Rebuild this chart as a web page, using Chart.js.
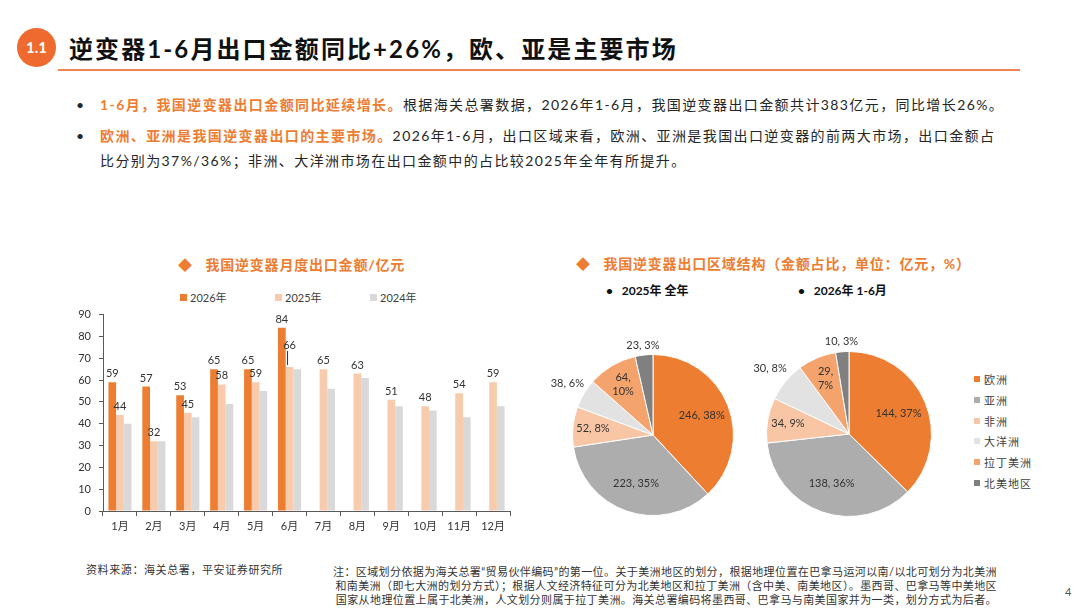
<!DOCTYPE html>
<html>
<head>
<meta charset="utf-8">
<script src="https://cdn.jsdelivr.net/npm/chart.js@4.4.1/dist/chart.umd.min.js"></script>
<style>
  body { margin: 0; background: #fff; font-family: "Lato", "Noto Sans CJK SC", sans-serif; color: #262626; }
  #page { position: relative; width: 1080px; height: 608px; overflow: hidden; }
  .abs { position: absolute; white-space: nowrap; }
  .badge { left: 17px; top: 28px; width: 39px; height: 39px; border-radius: 50%; background: #EE6A2F; color: #fff;
           font: bold 15px "Lato", sans-serif; text-align: center; line-height: 39px; }
  .title { left: 69px; top: 30px; font: bold 24px "Lato", "Noto Sans CJK SC", sans-serif; color: #111; letter-spacing: 2.1px; }
  .rule { left: 58px; top: 69px; width: 962px; height: 2px; background: #F08455; }
  .bullet { font-size: 14px; line-height: 25px; color: #262626; letter-spacing: 1.4px; }
  .hl { color: #ED7D31; font-weight: bold; }
  .ctitle { font-size: 14px; font-weight: bold; color: #ED7D31; letter-spacing: 0.8px; }
  .sub { font-size: 12px; font-weight: bold; color: #111; }
  .leg { font-size: 11px; color: #404040; display: flex; align-items: center; }
  .sw { display: inline-block; width: 7px; height: 7px; margin-right: 3px; }
  .foot { font-size: 11px; color: #333; letter-spacing: 0.4px; }
  canvas { position: absolute; }
</style>
</head>
<body>
<div id="page">
  <div class="abs badge">1.1</div>
  <div class="abs title">逆变器1-6月出口金额同比+26%，欧、亚是主要市场</div>
  <div class="abs rule"></div>

  <div class="abs bullet" style="left:76px; top:92px;">•</div>
  <div class="abs bullet" style="left:100px; top:92px;"><span class="hl">1-6月，我国逆变器出口金额同比延续增长。</span>根据海关总署数据，2026年1-6月，我国逆变器出口金额共计383亿元，同比增长26%。</div>
  <div class="abs bullet" style="left:76px; top:123px;">•</div>
  <div class="abs bullet" style="left:100px; top:123px;"><span class="hl">欧洲、亚洲是我国逆变器出口的主要市场。</span>2026年1-6月，出口区域来看，欧洲、亚洲是我国出口逆变器的前两大市场，出口金额占<br>比分别为37%/36%；非洲、大洋洲市场在出口金额中的占比较2025年全年有所提升。</div>

  <div class="abs ctitle" style="left:178px; top:254px;">◆&nbsp;&nbsp;&nbsp;我国逆变器月度出口金额/亿元</div>
  <div class="abs ctitle" style="left:576px; top:253px;">◆&nbsp;&nbsp;&nbsp;我国逆变器出口区域结构（金额占比，单位：亿元，%）</div>
  <div class="abs sub" style="left:606px; top:281px;">•&nbsp;&nbsp;&nbsp;2025年 全年</div>
  <div class="abs sub" style="left:798px; top:281px;">•&nbsp;&nbsp;&nbsp;2026年 1-6月</div>

  <div id="barLegend"></div>
  <div id="pieLegend"></div>

  <canvas id="bar" style="left:60px; top:300px;" width="460" height="240"></canvas>
  <canvas id="pie1" style="left:540px; top:330px;" width="226" height="210"></canvas>
  <canvas id="pie2" style="left:740px; top:330px;" width="218" height="208"></canvas>

  <div class="abs foot" style="left:86px; top:561px; letter-spacing:0.6px;">资料来源：海关总署，平安证券研究所</div>
  <div class="abs foot" style="right:83px; top:565px; text-align:right; line-height:14px;">注：区域划分依据为海关总署“贸易伙伴编码”的第一位。关于美洲地区的划分，根据地理位置在巴拿马运河以南/以北可划分为北美洲<br>和南美洲（即七大洲的划分方式）；根据人文经济特征可分为北美地区和拉丁美洲（含中美、南美地区）。墨西哥、巴拿马等中美地区<br>国家从地理位置上属于北美洲，人文划分则属于拉丁美洲。海关总署编码将墨西哥、巴拿马与南美国家并为一类，划分方式为后者。</div>
  <div class="abs foot" style="left:1065px; top:585px; color:#555;">4</div>
</div>

<script>
// monthly export value, 100m yuan
const months = ['1月', '2月', '3月', '4月', '5月', '6月', '7月', '8月', '9月', '10月', '11月', '12月'];
const seriesNames = ['2026年', '2025年', '2024年'];
const export2026 = [59, 57, 53, 65, 65, 84, null, null, null, null, null, null];
const export2025 = [44, 32, 45, 58, 59, 66, 65, 63, 51, 48, 54, 59];
const export2024 = [40, 32, 43, 49, 55, 65, 56, 61, 48, 46, 43, 48];
const yTicks = [0, 10, 20, 30, 40, 50, 60, 70, 80, 90];

// regional structure
const regions = ['欧洲', '亚洲', '非洲', '大洋洲', '拉丁美洲', '北美地区'];
const region2025 = [246, 223, 52, 38, 64, 23];
const region2025Pct = [38, 35, 8, 6, 10, 3];
const region2026H1 = [144, 138, 34, 30, 29, 10];
const region2026H1Pct = [37, 36, 9, 8, 7, 3];

const barColors = ['#ED7D31', '#F8CBAD', '#D9D9D9'];
const pieColors = ['#ED7D31', '#ADADAD', '#F8C6A4', '#E2E2E2', '#F4A36C', '#808080'];
const numFont = '"Lato", "Noto Sans CJK SC", sans-serif';

// legends
const barLegend = document.getElementById('barLegend');
seriesNames.forEach((name, i) => {
  const el = document.createElement('div');
  el.className = 'abs leg';
  el.style.left = (180 + i * 95) + 'px';
  el.style.top = '289px';
  el.innerHTML = '<span class="sw" style="background:' + barColors[i] + '"></span>' + name;
  barLegend.appendChild(el);
});
const pieLegend = document.getElementById('pieLegend');
regions.forEach((name, i) => {
  const el = document.createElement('div');
  el.className = 'abs leg';
  el.style.left = '974px';
  el.style.top = (371 + i * 20.8) + 'px';
  el.style.letterSpacing = '1px';
  el.innerHTML = '<span class="sw" style="width:6px;height:6px;margin-right:4px;background:' + pieColors[i] + '"></span>' + name;
  pieLegend.appendChild(el);
});

// value labels above bars (2024 has none); 2025 June label is lifted with a leader line
const barLabels = {
  id: 'barLabels',
  afterDatasetsDraw(chart) {
    const ctx = chart.ctx;
    ctx.save();
    ctx.font = '11px ' + numFont;
    ctx.fillStyle = '#333';
    ctx.textAlign = 'center';
    ctx.textBaseline = 'bottom';
    [0, 1].forEach(di => {
      const meta = chart.getDatasetMeta(di);
      meta.data.forEach((bar, i) => {
        const v = chart.data.datasets[di].data[i];
        if (v == null) return;
        let y = bar.y - 3;
        if (di === 1 && i === 5) {
          ctx.strokeStyle = '#333';
          ctx.lineWidth = 1;
          ctx.beginPath();
          ctx.moveTo(bar.x - 2, bar.y - 2);
          ctx.lineTo(bar.x - 2, bar.y - 16);
          ctx.stroke();
          y = bar.y - 16;
        }
        ctx.fillText(v, bar.x, y);
      });
    });
    ctx.restore();
  }
};

new Chart(document.getElementById('bar'), {
  type: 'bar',
  data: {
    labels: months,
    datasets: [
      { label: seriesNames[0], data: export2026, backgroundColor: barColors[0] },
      { label: seriesNames[1], data: export2025, backgroundColor: barColors[1] },
      { label: seriesNames[2], data: export2024, backgroundColor: barColors[2] }
    ]
  },
  options: {
    responsive: false,
    animation: false,
    layout: { padding: { left: 0, right: 10, top: 12, bottom: 0 } },
    datasets: { bar: { barPercentage: 1, categoryPercentage: 0.68 } },
    plugins: { legend: { display: false }, tooltip: { enabled: false } },
    scales: {
      x: {
        grid: { display: true, drawOnChartArea: false, color: '#595959', tickLength: 5, offset: true },
        border: { display: true, color: '#595959', width: 1 },
        ticks: { color: '#333', font: { size: 11, family: numFont }, padding: 4 },
        afterFit(scale) { scale.height = 29; }
      },
      y: {
        min: 0, max: 90,
        afterBuildTicks(scale) { scale.ticks = yTicks.map(v => ({ value: v })); },
        grid: { display: true, drawOnChartArea: false, color: '#595959', tickLength: 4 },
        border: { display: true, color: '#595959', width: 1 },
        ticks: { color: '#333', font: { size: 11, family: numFont }, padding: 8 },
        afterFit(scale) { scale.width = 43; }
      }
    }
  },
  plugins: [barLabels]
});

// slice label distance from centre, as a share of radius; wrapped labels split in two lines
const labelRadius = [0.65, 0.64, 0.75, 1.24, 0.73, 1.12];
const wrapped = [4];

function pieLabels(pcts, wrapIdx) {
  return {
    id: 'pieLabels',
    afterDatasetsDraw(chart) {
      const ctx = chart.ctx;
      const meta = chart.getDatasetMeta(0);
      const vals = chart.data.datasets[0].data;
      ctx.save();
      ctx.font = '11px ' + numFont;
      ctx.fillStyle = '#333';
      ctx.textAlign = 'center';
      ctx.textBaseline = 'middle';
      meta.data.forEach((arc, i) => {
        const p = arc.getProps(['x', 'y', 'startAngle', 'endAngle', 'outerRadius'], true);
        const mid = (p.startAngle + p.endAngle) / 2;
        const r = p.outerRadius * labelRadius[i];
        const x = p.x + Math.cos(mid) * r;
        const y = p.y + Math.sin(mid) * r;
        if (wrapIdx.includes(i)) {
          ctx.fillText(vals[i] + ',', x, y - 7);
          ctx.fillText(pcts[i] + '%', x, y + 7);
        } else {
          ctx.fillText(vals[i] + ', ' + pcts[i] + '%', x, y);
        }
      });
      ctx.restore();
    }
  };
}

function makePie(id, values, pcts, pad) {
  new Chart(document.getElementById(id), {
    type: 'pie',
    data: {
      labels: regions,
      datasets: [{ data: values, backgroundColor: pieColors, borderColor: '#fff', borderWidth: 1 }]
    },
    options: {
      responsive: false,
      animation: false,
      layout: { padding: pad },
      plugins: { legend: { display: false }, tooltip: { enabled: false } }
    },
    plugins: [pieLabels(pcts, wrapped)]
  });
}

makePie('pie1', region2025, region2025Pct, { left: 32, right: 32, top: 24, bottom: 24 });
makePie('pie2', region2026H1, region2026H1Pct, { left: 26, right: 26, top: 21, bottom: 21 });
</script>
</body>
</html>
